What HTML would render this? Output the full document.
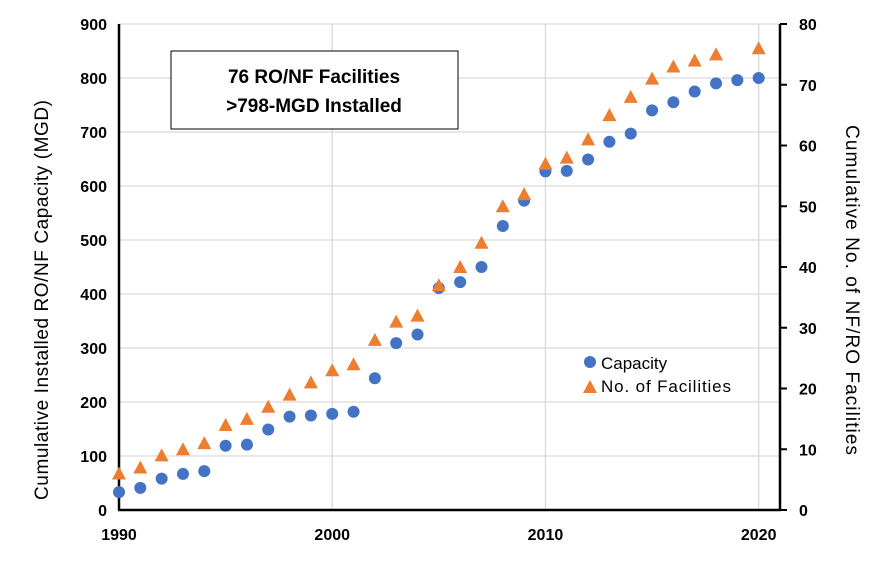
<!DOCTYPE html>
<html><head><meta charset="utf-8"><style>
body{margin:0;background:#fff;}
svg text{font-family:"Liberation Sans",sans-serif;}
</style></head><body>
<svg id="chart" width="879" height="571" viewBox="0 0 879 571">
<g id="grid"></g>
<g id="axes"></g>
<g id="marks"></g>
<rect x="171" y="51" width="287" height="78" fill="#fff" stroke="#000" stroke-width="1"/>
<text x="314" y="83" text-anchor="middle" font-size="19" font-weight="bold">76 RO/NF Facilities</text>
<text x="314" y="112" text-anchor="middle" font-size="19" font-weight="bold">&gt;798-MGD Installed</text>
<text transform="translate(48,300) rotate(-90)" text-anchor="middle" font-size="19" textLength="400">Cumulative Installed RO/NF Capacity (MGD)</text>
<text transform="translate(846,290) rotate(90)" text-anchor="middle" font-size="19" textLength="330">Cumulative No. of NF/RO Facilities</text>
<g>
<circle cx="590" cy="362" r="6" fill="#4472C4"/>
<text x="601" y="369" font-size="17">Capacity</text>
<path d="M583,393 L597,393 L590,380 Z" fill="#ED7D31"/>
<text x="601" y="392" font-size="17" textLength="130">No. of Facilities</text>
</g>
</svg>
<script>
const years=[1990,1991,1992,1993,1994,1995,1996,1997,1998,1999,2000,2001,2002,2003,2004,2005,2006,2007,2008,2009,2010,2011,2012,2013,2014,2015,2016,2017,2018,2019,2020];
const capacity=[33,41,58,67,72,119,121,149,173,175,178,182,244,309,325,411,422,450,526,573,627,628,649,682,697,740,755,775,790,796,800];
const facilities=[6,7,9,10,11,14,15,17,19,21,23,24,28,31,32,37,40,44,50,52,57,58,61,65,68,71,73,74,75,null,76];
const leftTicks=[0,100,200,300,400,500,600,700,800,900];
const rightTicks=[0,10,20,30,40,50,60,70,80];
const xTicks=[1990,2000,2010,2020];
const NS="http://www.w3.org/2000/svg";
const X0=119,X1=780,Y0=510,Y1=24;
const xs=v=>X0+(v-1990)/(2021-1990)*(X1-X0);
const yl=v=>Y0-v/900*(Y0-Y1);
const yr=v=>Y0-v/80*(Y0-Y1);
function mk(p,tag,a){const e=document.createElementNS(NS,tag);for(const k in a)e.setAttribute(k,a[k]);p.appendChild(e);return e;}
const grid=document.getElementById('grid'),axes=document.getElementById('axes'),marks=document.getElementById('marks');
leftTicks.forEach(t=>{if(t>0){const l=mk(grid,'line',{x1:X0,x2:X1,y1:yl(t),y2:yl(t),stroke:'#d9d9d9','stroke-width':1.3});

}
const tx=mk(axes,'text',{x:X0-12,y:yl(t)+6,'text-anchor':'end','font-size':16,'font-weight':'bold'});tx.textContent=t;

});
xTicks.forEach(t=>{if(t>1990){const l=mk(grid,'line',{x1:xs(t),x2:xs(t),y1:Y1,y2:Y0,stroke:'#d9d9d9','stroke-width':1.3});

}
const tx=mk(axes,'text',{x:xs(t),y:Y0+30,'text-anchor':'middle','font-size':16,'font-weight':'bold'});tx.textContent=t;

});
rightTicks.forEach(t=>{const l=mk(axes,'line',{x1:X1,x2:X1+7,y1:yr(t),y2:yr(t),stroke:'#000','stroke-width':2});


const tx=mk(axes,'text',{x:X1+19,y:yr(t)+6,'font-size':16,'font-weight':'bold'});tx.textContent=t;

});
[[X0,Y1,X0,Y0,'left-axis-line'],[X0-1,Y0,X1+1,Y0,'x-axis-line'],[X1,Y1,X1,Y0,'right-axis-line']].forEach(a=>{const l=mk(axes,'line',{x1:a[0],y1:a[1],x2:a[2],y2:a[3],stroke:'#000','stroke-width':2.5});

});
years.forEach((yv,i)=>{const c=mk(marks,'circle',{cx:xs(yv),cy:yl(capacity[i]),r:6,fill:'#4472C4'});


if(facilities[i]!=null){const x=xs(yv),y=yr(facilities[i]);
const p=mk(marks,'path',{d:`M${x-7},${y+6} L${x+7},${y+6} L${x},${y-7} Z`,fill:'#ED7D31'});

}});
</script>
</body></html>
